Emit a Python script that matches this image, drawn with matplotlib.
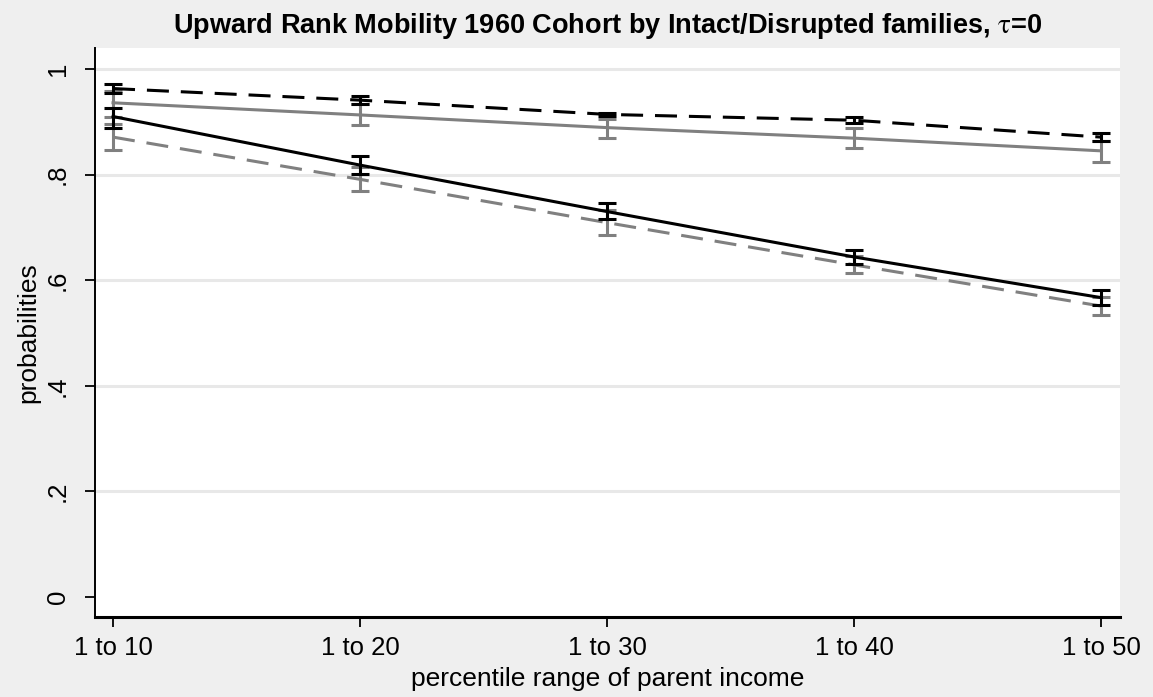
import matplotlib
matplotlib.use("Agg")
import matplotlib.pyplot as plt
import numpy as np

plt.rcParams['font.family'] = ['Liberation Sans', 'DejaVu Sans']
plt.rcParams['mathtext.fontset'] = 'stix'

categories = ["1 to 10", "1 to 20", "1 to 30", "1 to 40", "1 to 50"]

# black dashed
s1 = [0.963, 0.941, 0.914, 0.903, 0.871]
s1_lo = [0.954, 0.934, 0.911, 0.898, 0.864]
s1_hi = [0.972, 0.949, 0.917, 0.909, 0.878]
# gray solid
s2 = [0.936, 0.913, 0.889, 0.869, 0.845]
s2_lo = [0.910, 0.893, 0.870, 0.850, 0.824]
s2_hi = [0.959, 0.933, 0.906, 0.888, 0.864]
# black solid
s3 = [0.910, 0.818, 0.730, 0.644, 0.567]
s3_lo = [0.889, 0.801, 0.715, 0.631, 0.553]
s3_hi = [0.927, 0.836, 0.746, 0.657, 0.581]
# gray dashed
s4 = [0.871, 0.791, 0.709, 0.629, 0.551]
s4_lo = [0.847, 0.769, 0.686, 0.613, 0.534]
s4_hi = [0.896, 0.815, 0.733, 0.645, 0.569]

yticks = [0, 0.2, 0.4, 0.6, 0.8, 1.0]
ytick_labels = ["0", ".2", ".4", ".6", ".8", "1"]

BG = '#efefef'
GRAY = '#808080'

fig = plt.figure(figsize=(11.53, 6.97), dpi=100, facecolor=BG)
ax = fig.add_axes([95/1153, 80/697, 1025/1153, 569/697])
ax.set_facecolor('white')

x = np.arange(len(categories))

for y in yticks[1:]:
    ax.axhline(y, color='#e8e8e8', lw=2.2, zorder=0)

def draw(vals, lo, hi, color, ls, z):
    vals = np.array(vals); lo = np.array(lo); hi = np.array(hi)
    ax.errorbar(x, vals, yerr=[vals - lo, hi - vals], fmt='none', ecolor=color,
                elinewidth=2.2, capsize=6.5, capthick=2.2, zorder=z)
    if ls == '--':
        ax.plot(x, vals, color=color, lw=2.2, zorder=z, dashes=(7.2, 3.9))
    else:
        ax.plot(x, vals, color=color, lw=2.2, zorder=z)

draw(s4, s4_lo, s4_hi, GRAY, '--', 2)
draw(s2, s2_lo, s2_hi, GRAY, '-', 2)
draw(s3, s3_lo, s3_hi, 'black', '-', 3)
draw(s1, s1_lo, s1_hi, 'black', '--', 3)

ax.set_xlim(-0.073, 4.077)
ax.set_ylim(-0.038, 1.0398)
ax.set_xticks(x)
ax.set_xticklabels(categories, fontsize=18.5)
ax.set_yticks(yticks)
ax.set_yticklabels(ytick_labels, fontsize=18.5, rotation=90, va='center')

for s in ['top', 'right']:
    ax.spines[s].set_visible(False)
ax.spines['left'].set_linewidth(1.4)
ax.spines['bottom'].set_linewidth(2.2)
ax.tick_params(axis='both', direction='out', length=7, width=1.3, colors='black', pad=7)
ax.tick_params(axis='y', pad=11)

ax.set_xlabel("percentile range of parent income", fontsize=19, labelpad=5)
ax.set_ylabel("probabilities", fontsize=19, labelpad=4)
fig.text((95 + 1120) / 2 / 1153, 1 - 26/697,
         r"Upward Rank Mobility 1960 Cohort by Intact/Disrupted families, $\mathrm{\tau}$=0",
         ha='center', va='center', fontsize=19.5, fontweight='bold')

fig.savefig("out.png", dpi=100, facecolor=BG)
